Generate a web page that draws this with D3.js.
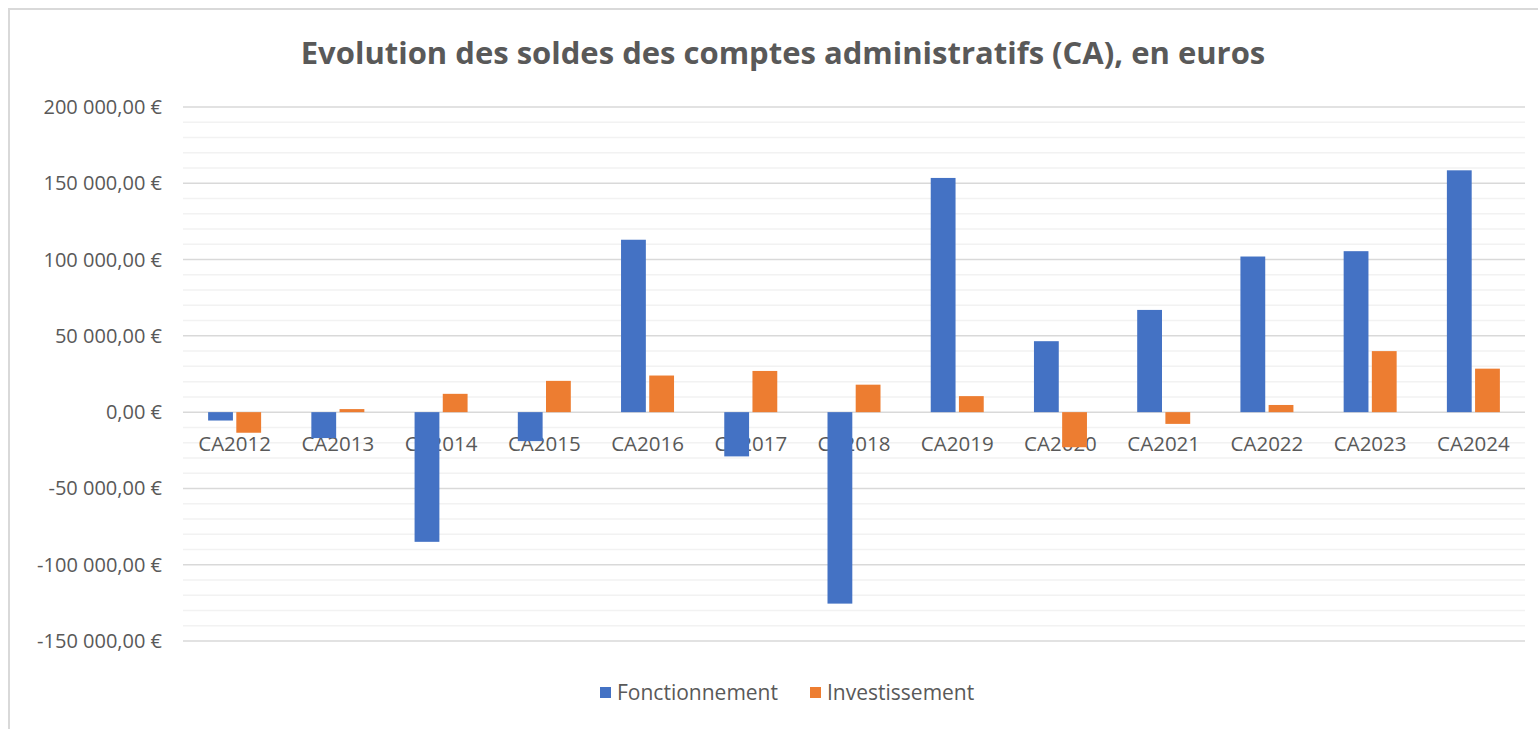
<!DOCTYPE html>
<html>
<head>
<meta charset="utf-8">
<script src="https://cdn.jsdelivr.net/npm/d3@7"></script>
<style>
  body { margin: 0; background: #fff; }
  text { font-family: "Open Sans", "Noto Sans", sans-serif; }
</style>
</head>
<body>
<script>
const categories = ['CA2012','CA2013','CA2014','CA2015','CA2016','CA2017','CA2018','CA2019','CA2020','CA2021','CA2022','CA2023','CA2024']
const fonctionnement = [-5500, -17000, -85000, -19000, 113000, -29000, -125500, 153500, 46500, 67000, 102000, 105500, 158500]
const investissement = [-13500, 2000, 12000, 20500, 24000, 27000, 18000, 10500, -23000, -7700, 4700, 40000, 28500]
const seriesNames = ['Fonctionnement', 'Investissement']
const colors = ['#4472c4', '#ed7d31']
const yTicks = [-150000, -100000, -50000, 0, 50000, 100000, 150000, 200000]

const width = 1538, height = 729

let svg = d3.select('body').append('svg')
          .attr('width', width)
          .attr('height', height)

// chart frame
svg.append('rect')
   .attr('x', 9).attr('y', 9)
   .attr('width', width).attr('height', height)
   .attr('fill', '#fff')
   .attr('stroke', '#d9d9d9').attr('stroke-width', 2)

svg.append('text')
   .text('Evolution des soldes des comptes administratifs (CA), en euros')
   .attr('x', 783).attr('y', 64)
   .attr('text-anchor', 'middle')
   .attr('font-size', 31).attr('font-weight', 'bold')
   .attr('fill', '#595959')

const left = 183, right = 1525
let y = d3.scaleLinear().domain([-150000, 200000]).range([641, 107])
let x = d3.scaleBand().domain(categories).range([left, right])

// minor grid every 10 000
let minor = d3.range(-150000, 200001, 10000).filter(v => v % 50000 != 0)
svg.append('g').selectAll('line').data(minor).enter().append('line')
   .attr('x1', left).attr('x2', right)
   .attr('y1', d => y(d)).attr('y2', d => y(d))
   .attr('stroke', '#f2f2f2').attr('stroke-width', 1.5)

svg.append('g').selectAll('line').data(yTicks).enter().append('line')
   .attr('x1', left).attr('x2', right)
   .attr('y1', d => y(d)).attr('y2', d => y(d))
   .attr('stroke', '#d9d9d9').attr('stroke-width', 1.5)

const fmt = v => {
  let s = d3.format(',.2f')(v).replace(/,/g, ' ').replace('.', ',').replace('−', '-')
  return s + ' €'
}

svg.append('g').selectAll('text').data(yTicks).enter().append('text')
   .text(d => fmt(d))
   .attr('x', 162).attr('y', d => y(d) + 7)
   .attr('text-anchor', 'end')
   .attr('font-size', 20)
   .attr('fill', '#595959')

// category labels under the bars
svg.append('g').selectAll('text').data(categories).enter().append('text')
   .text(d => d)
   .attr('x', d => x(d) + x.bandwidth() / 2)
   .attr('y', 451)
   .attr('text-anchor', 'middle')
   .attr('font-size', 20.5)
   .attr('fill', '#595959')

let x1 = d3.scaleBand().domain([0, 1]).range([0, 53]).paddingInner(0.12)
const offset = (x.bandwidth() - 53) / 2

const rows = categories.map((c, i) => ({ c, vals: [fonctionnement[i], investissement[i]] }))

let groups = svg.append('g').selectAll('g').data(rows).enter().append('g')
   .attr('transform', d => `translate(${x(d.c) + offset},0)`)

groups.selectAll('rect').data(d => d.vals).enter().append('rect')
   .attr('x', (d, i) => x1(i))
   .attr('width', x1.bandwidth())
   .attr('y', d => Math.min(y(d), y(0)))
   .attr('height', d => Math.abs(y(d) - y(0)))
   .attr('fill', (d, i) => colors[i])

// legend
let legend = svg.append('g').selectAll('g').data(seriesNames).enter().append('g')
   .attr('transform', (d, i) => `translate(${i == 0 ? 600 : 810},0)`)
legend.append('rect')
   .attr('x', 0).attr('y', 687)
   .attr('width', 11).attr('height', 11)
   .attr('fill', (d, i) => colors[i])
legend.append('text').text(d => d)
   .attr('x', 17).attr('y', 700)
   .attr('font-size', 21)
   .attr('fill', '#595959')
</script>
</body>
</html>
